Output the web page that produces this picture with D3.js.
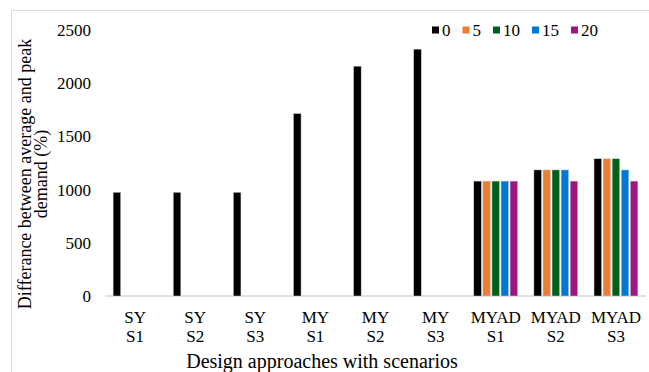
<!DOCTYPE html>
<html>
<head>
<meta charset="utf-8">
<script src="https://cdn.jsdelivr.net/npm/d3@7"></script>
<style>
  html, body { margin: 0; padding: 0; background: #fff; }
  svg { display: block; }
  text { font-family: "Liberation Serif", "Times New Roman", serif; fill: #000; }
</style>
</head>
<body>
<div id="chart"></div>
<script>
// ---- Data ----
const categoriesTop = ["SY", "SY", "SY", "MY", "MY", "MY", "MYAD", "MYAD", "MYAD"];
const categoriesBottom = ["S1", "S2", "S3", "S1", "S2", "S3", "S1", "S2", "S3"];
const seriesNames = ["0", "5", "10", "15", "20"];
const seriesColors = ["#000000", "#ED7D31", "#00611C", "#0078D4", "#A0157E"];
const values0  = [975, 975, 975, 1715, 2160, 2320, 1080, 1185, 1290];
const values5  = [0, 0, 0, 0, 0, 0, 1080, 1185, 1290];
const values10 = [0, 0, 0, 0, 0, 0, 1080, 1185, 1290];
const values15 = [0, 0, 0, 0, 0, 0, 1080, 1185, 1185];
const values20 = [0, 0, 0, 0, 0, 0, 1080, 1080, 1080];
const yTicks = [0, 500, 1000, 1500, 2000, 2500];
const yTitle = ["Differance between average and peak", "demand (%)"];
const xTitle = "Design approaches with scenarios";

const seriesValues = [values0, values5, values10, values15, values20];

const W = 649, H = 372;
const svg = d3.select("#chart").append("svg").attr("width", W).attr("height", H);

// outer chart border
svg.append("rect").attr("x", 11.5).attr("y", 10.5).attr("width", 700).attr("height", 400)
  .attr("fill", "none").attr("stroke", "#d9d9d9").attr("stroke-width", 1);

const plotLeft = 105, plotRight = 646, plotTop = 30, plotBottom = 296;

const idx = d3.range(categoriesTop.length);
const x0 = d3.scaleBand().domain(idx).range([plotLeft, plotRight]).paddingInner(0.27).paddingOuter(0.135);
const x1 = d3.scaleBand().domain(d3.range(seriesNames.length)).range([0, x0.bandwidth()]).paddingInner(0.16);
const y = d3.scaleLinear().domain([0, 2500]).range([plotBottom, plotTop]);

// baseline
svg.append("line").attr("x1", plotLeft).attr("x2", plotRight)
  .attr("y1", y(0)).attr("y2", y(0)).attr("stroke", "#d9d9d9").attr("stroke-width", 1.5);

// bars
const groups = svg.append("g").selectAll("g").data(idx).join("g")
  .attr("transform", i => `translate(${x0(i)},0)`);
groups.selectAll("rect")
  .data(i => seriesValues.map((arr, s) => ({ s, v: arr[i] })).filter(d => d.v > 0))
  .join("rect")
  .attr("x", d => x1(d.s))
  .attr("width", x1.bandwidth())
  .attr("y", d => y(d.v))
  .attr("height", d => y(0) - y(d.v))
  .attr("fill", d => seriesColors[d.s])
  .attr("stroke", "#d6d6d6").attr("stroke-width", 0.5);

// y axis (labels only)
const yAxis = d3.axisLeft(y).tickValues(yTicks).tickSize(0).tickPadding(0).tickFormat(d3.format("d"));
const yg = svg.append("g").attr("transform", "translate(91,0)").call(yAxis);
yg.select(".domain").remove();
yg.selectAll("text").attr("font-size", 17).attr("font-family", "Liberation Serif").attr("fill", "#000");

// x axis category labels
const xl = svg.append("g");
idx.forEach(i => {
  const cx = x0(i) + x0.bandwidth() / 2;
  xl.append("text").attr("x", cx).attr("y", 323).attr("text-anchor", "middle").attr("font-size", 17).text(categoriesTop[i]);
  xl.append("text").attr("x", cx).attr("y", 342).attr("text-anchor", "middle").attr("font-size", 17).text(categoriesBottom[i]);
});

// x title
svg.append("text").attr("x", 322).attr("y", 368).attr("text-anchor", "middle").attr("font-size", 20).text(xTitle);

// y title
const yt = svg.append("text").attr("transform", "translate(0,174) rotate(-90)").attr("text-anchor", "middle").attr("font-size", 18);
yt.append("tspan").attr("x", 0).attr("y", 31).text(yTitle[0]);
yt.append("tspan").attr("x", 0).attr("y", 47).text(yTitle[1]);

// legend
let lx = 432;
const lg = svg.append("g");
seriesNames.forEach((name, s) => {
  lg.append("rect").attr("x", lx).attr("y", 26.5).attr("width", 7).attr("height", 7).attr("fill", seriesColors[s]);
  const t = lg.append("text").attr("x", lx + 10).attr("y", 35.5).attr("font-size", 17).text(name);
  const w = t.node().getComputedTextLength();
  lx += 10 + w + 12;
});
</script>
</body>
</html>
